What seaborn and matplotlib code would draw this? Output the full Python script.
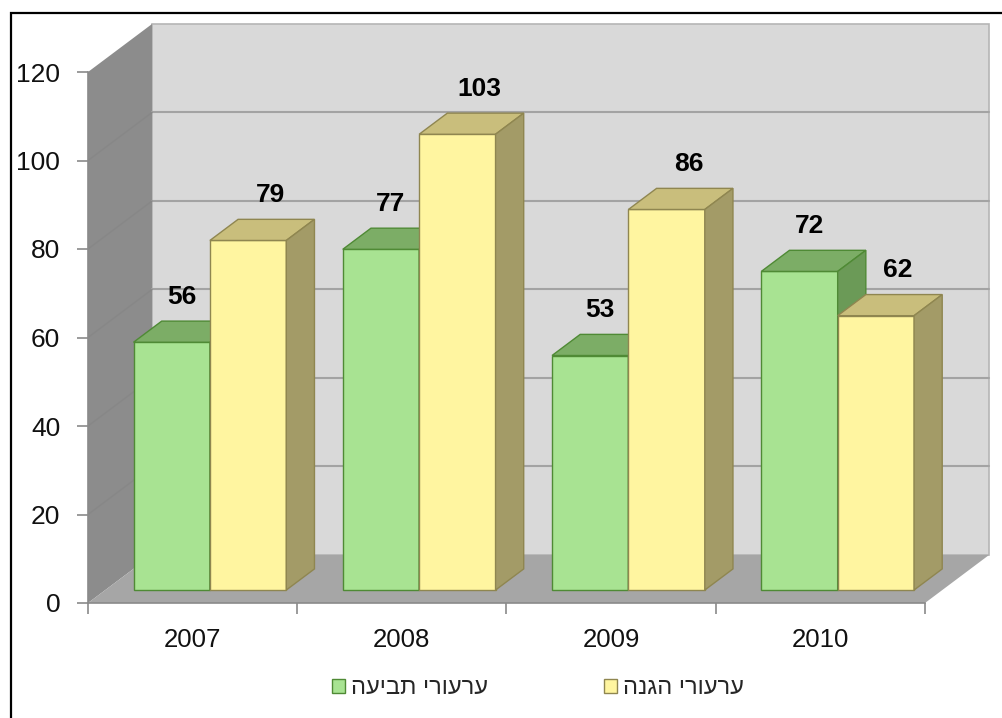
import numpy as np
import pandas as pd
import matplotlib
matplotlib.use('Agg')
import matplotlib.pyplot as plt
import seaborn as sns
from matplotlib.patches import Polygon, Patch, Rectangle

# data
years = ['2007', '2008', '2009', '2010']
series_names = ['ערעורי תביעה', 'ערעורי הגנה']
prosecution = [56, 77, 53, 72]
defense = [79, 103, 86, 62]
y_ticks = [0, 20, 40, 60, 80, 100, 120]

front_colors = ['#a8e392', '#fff5a0']
top_colors = ['#7cad66', '#c9be7c']
side_colors = ['#6b9a57', '#a39b67']
edge_colors = ['#4f8a35', '#8f8650']

# pseudo-3d geometry (data units)
FDX, FDY = 0.306, 10.85          # floor depth offset
BAR_F0, BAR_F1 = 0.27, 0.71      # bar front/back as fraction of floor depth
BAR_DX, BAR_DY = BAR_F0 * FDX, BAR_F0 * FDY
DDX, DDY = (BAR_F1 - BAR_F0) * FDX, (BAR_F1 - BAR_F0) * FDY
label_nudge = [7, 16]            # points, per series

df = pd.DataFrame({
    'year': years * 2,
    'series': [series_names[0]] * 4 + [series_names[1]] * 4,
    'value': prosecution + defense,
})

sns.set_theme(style='ticks')
plt.rcParams['font.family'] = ['Liberation Sans', 'DejaVu Sans']

fig = plt.figure(figsize=(10.03, 7.18), dpi=100)
ax = fig.add_axes([88 / 1003, 115 / 718, 910 / 1003, 580 / 718])
ax.patch.set_alpha(0)

sns.barplot(data=df, x='year', y='value', hue='series', order=years,
            hue_order=series_names, palette=front_colors, saturation=1,
            width=0.73, legend=False, ax=ax)
bars = [p for p in ax.patches if isinstance(p, Rectangle)]
bars = sorted(bars, key=lambda p: p.get_x())

x_lo, x_hi = -0.5, len(years) - 0.5
ymax = y_ticks[-1]

# walls and floor
ax.add_patch(Polygon([(x_lo + FDX, FDY), (x_hi + FDX, FDY), (x_hi + FDX, ymax + FDY),
                      (x_lo + FDX, ymax + FDY)], closed=True, facecolor='#d9d9d9',
                     edgecolor='#b5b5b5', lw=1.2, zorder=0.5))
ax.add_patch(Polygon([(x_lo, 0), (x_lo, ymax), (x_lo + FDX, ymax + FDY), (x_lo + FDX, FDY)],
                     closed=True, facecolor='#8c8c8c', edgecolor='none', zorder=0.5))
for v in y_ticks[1:-1]:
    ax.plot([x_lo + FDX, x_hi + FDX], [v + FDY, v + FDY], color='#a3a3a3', lw=1.5, zorder=0.6)
    ax.plot([x_lo, x_lo + FDX], [v, v + FDY], color='#878787', lw=1.0, zorder=0.6)
ax.add_patch(Polygon([(x_lo, 0), (x_hi, 0), (x_hi + FDX, FDY), (x_lo + FDX, FDY)],
                     closed=True, facecolor='#a6a6a6', edgecolor='none', zorder=0.7))

# bars: shift front faces back, add top and side faces
for i, p in enumerate(bars):
    s = i % 2
    z = 3 + i * 0.1
    x0 = p.get_x() + BAR_DX
    w = p.get_width()
    h = p.get_height()
    y0 = BAR_DY
    p.set_x(x0)
    p.set_y(y0)
    p.set_edgecolor(edge_colors[s])
    p.set_linewidth(1.0)
    p.set_zorder(z)
    top = [(x0, y0 + h), (x0 + w, y0 + h), (x0 + w + DDX, y0 + h + DDY), (x0 + DDX, y0 + h + DDY)]
    side = [(x0 + w, y0), (x0 + w + DDX, y0 + DDY), (x0 + w + DDX, y0 + h + DDY), (x0 + w, y0 + h)]
    ax.add_patch(Polygon(top, closed=True, facecolor=top_colors[s], edgecolor=edge_colors[s],
                         lw=1.0, zorder=z))
    ax.add_patch(Polygon(side, closed=True, facecolor=side_colors[s], edgecolor=edge_colors[s],
                         lw=1.0, zorder=z))
    ax.annotate(f'{h:.0f}', (x0 + w / 2, y0 + h + DDY), xytext=(label_nudge[s], 9),
                textcoords='offset points', ha='center', va='bottom',
                fontsize=19, fontweight='bold', color='black', zorder=10)

ax.set_xlim(x_lo, x_lo + 910 / 209.25)
ax.set_ylim(0, 580 / 4.425)
ax.set_xlabel('')
ax.set_ylabel('')
ax.set_yticks(y_ticks)
ax.set_xticks(range(len(years)))
ax.set_xticklabels(years)
ax.set_xticks(np.arange(x_lo, x_hi + 0.01, 1.0), minor=True)

for side_name in ['top', 'right']:
    ax.spines[side_name].set_visible(False)
ax.spines['left'].set_bounds(0, ymax)
ax.spines['bottom'].set_bounds(x_lo, x_hi)
for side_name in ['left', 'bottom']:
    ax.spines[side_name].set_color('#8a8a8a')
    ax.spines[side_name].set_linewidth(1.2)
    ax.spines[side_name].set_zorder(1)

ax.tick_params(axis='x', which='major', length=0, pad=18, labelsize=18.5, labelcolor='#111111')
ax.tick_params(axis='x', which='minor', bottom=True, length=8, width=1.2, color='#8a8a8a')
ax.tick_params(axis='y', which='major', left=True, length=8, width=1.2, color='#8a8a8a',
               pad=12, labelsize=19, labelcolor='#111111')

handles = [Patch(facecolor=front_colors[k], edgecolor=edge_colors[k], label=series_names[k][::-1])
           for k in range(2)]
fig.legend(handles=handles, loc='center', bbox_to_anchor=(538 / 1003, 1 - 688 / 718), ncol=2,
           frameon=False, fontsize=17, handlelength=0.55, handleheight=0.55,
           handletextpad=0.25, columnspacing=4.9)

fig.add_artist(Rectangle((10.5 / 1003, -0.05), 1.2, (1 - 13 / 718) + 0.05,
                         transform=fig.transFigure, fill=False, edgecolor='black', lw=1.6))

fig.savefig('out.png', dpi=100)
